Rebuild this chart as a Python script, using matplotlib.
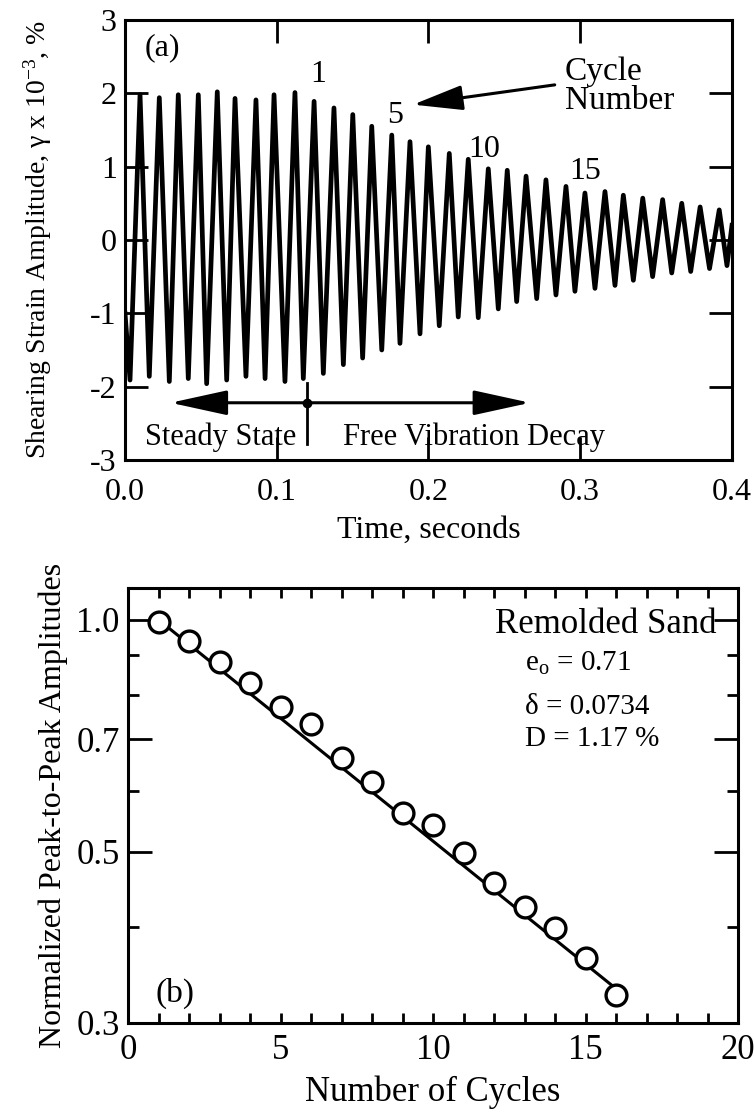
import matplotlib
matplotlib.use('Agg')
import matplotlib.pyplot as plt

plt.rcParams['font.family'] = ['Liberation Serif', 'DejaVu Serif']
plt.rcParams['mathtext.fontset'] = 'custom'
plt.rcParams['mathtext.rm'] = 'Liberation Serif'
plt.rcParams['mathtext.it'] = 'Liberation Serif:italic'
plt.rcParams['axes.unicode_minus'] = False

# (a) peaks and troughs of the strain trace
time_s = [0.0, 0.0033, 0.0099, 0.0160, 0.0226, 0.0292, 0.0351, 0.0417, 0.0483, 0.0538,
          0.0608, 0.0670, 0.0725, 0.0797, 0.0863, 0.0923, 0.0982, 0.1054, 0.1120, 0.1175,
          0.1246, 0.1307, 0.1377, 0.1439, 0.1501, 0.1566, 0.1626, 0.1692, 0.1758, 0.1812,
          0.1878, 0.1944, 0.1999, 0.2071, 0.2137, 0.2196, 0.2262, 0.2328, 0.2394, 0.2460,
          0.2519, 0.2581, 0.2643, 0.2713, 0.2774, 0.2840, 0.2906, 0.2965, 0.3031, 0.3097,
          0.3163, 0.3229, 0.3284, 0.3350, 0.3412, 0.3477, 0.3543, 0.3603, 0.3669, 0.3728,
          0.3790, 0.3852, 0.3916, 0.3967, 0.4000]
strain = [-1.0, -1.91, 1.98, -1.86, 1.94, -1.93, 1.98, -1.89, 1.98, -1.96,
          2.02, -1.91, 1.93, -1.86, 1.91, -1.89, 1.98, -1.93, 2.01, -1.89,
          1.89, -1.82, 1.80, -1.70, 1.71, -1.61, 1.55, -1.50, 1.43, -1.41,
          1.34, -1.28, 1.27, -1.17, 1.18, -1.05, 1.10, -1.06, 0.97, -0.94,
          0.95, -0.84, 0.87, -0.80, 0.82, -0.75, 0.73, -0.70, 0.64, -0.66,
          0.66, -0.62, 0.61, -0.55, 0.57, -0.50, 0.55, -0.45, 0.50, -0.43,
          0.45, -0.39, 0.41, -0.35, 0.20]

# (b) normalized peak-to-peak amplitudes
cycles = [1, 2, 3, 4, 5, 6, 7, 8, 9, 10, 11, 12, 13, 14, 15, 16]
norm_amp = [0.994, 0.938, 0.881, 0.828, 0.771, 0.732, 0.661, 0.617, 0.561, 0.542,
            0.499, 0.456, 0.424, 0.398, 0.364, 0.326]
fit_n = [1.0, 16.3]
fit_amp = [1.0, 0.325]

fig = plt.figure(figsize=(7.54, 11.14), dpi=100)

# ---- panel (a)
ax1 = fig.add_axes([0.1658, 0.5871, 0.8050, 0.3950])
ax1.plot(time_s, strain, color='k', lw=3.4)
ax1.set_xlim(0, 0.4)
ax1.set_ylim(-3, 3)
ax1.set_xticks([0.0, 0.1, 0.2, 0.3, 0.4])
ax1.set_xticklabels(['0.0', '0.1', '0.2', '0.3', '0.4'])
ax1.set_yticks([-3, -2, -1, 0, 1, 2, 3])
ax1.tick_params(direction='in', length=16.5, width=2, top=True, right=True,
                labelsize=23, pad=6)
ax1.tick_params(axis='x', pad=13)
for s in ax1.spines.values():
    s.set_linewidth(2.2)
ax1.set_xlabel('Time, seconds', fontsize=23, labelpad=6)
ax1.set_ylabel('Shearing Strain Amplitude, \u03b3 x 10$^{-3}$, %', fontsize=20, labelpad=26)

ax1.text(0.013, 2.62, '(a)', fontsize=23, ha='left', va='center')
ax1.text(0.127, 2.25, '1', fontsize=23, ha='center', va='center')
ax1.text(0.178, 1.70, '5', fontsize=23, ha='center', va='center')
ax1.text(0.237, 1.23, '10', fontsize=23, ha='center', va='center')
ax1.text(0.303, 0.93, '15', fontsize=23, ha='center', va='center')
ax1.text(0.290, 2.10, 'Cycle\nNumber', fontsize=24, ha='left', va='center',
         linespacing=0.95)
ax1.annotate('', xy=(0.188, 1.84), xytext=(0.285, 2.12),
             arrowprops=dict(arrowstyle='-|>,head_length=1.4,head_width=0.35',
                             color='k', lw=2.2, mutation_scale=22))

ax1.annotate('', xy=(0.030, -2.22), xytext=(0.12, -2.22),
             arrowprops=dict(arrowstyle='-|>,head_length=1.6,head_width=0.35',
                             color='k', lw=2.2, mutation_scale=22, shrinkA=0, shrinkB=0))
ax1.annotate('', xy=(0.267, -2.22), xytext=(0.12, -2.22),
             arrowprops=dict(arrowstyle='-|>,head_length=1.6,head_width=0.35',
                             color='k', lw=2.2, mutation_scale=22, shrinkA=0, shrinkB=0))
ax1.plot([0.12, 0.12], [-1.95, -2.78], color='k', lw=2)
ax1.plot([0.12], [-2.22], 'o', color='k', ms=6)
ax1.text(0.063, -2.69, 'Steady State', fontsize=22, ha='center', va='center')
ax1.text(0.230, -2.69, 'Free Vibration Decay', fontsize=22, ha='center', va='center')

# ---- panel (b)
ax2 = fig.add_axes([0.170, 0.0817, 0.809, 0.3905])
ax2.plot(fit_n, fit_amp, color='k', lw=2.2)
ax2.plot(cycles, norm_amp, 'o', mfc='white', mec='k', mew=2.4, ms=15)
ax2.set_yscale('log')
ax2.set_xlim(0, 20)
ax2.set_ylim(0.3, 1.1)
ax2.set_xticks([0, 5, 10, 15, 20])
ax2.set_xticks(range(0, 21), minor=True)
ax2.set_yticks([0.3, 0.5, 0.7, 1.0])
ax2.set_yticklabels(['0.3', '0.5', '0.7', '1.0'])
ax2.set_yticks([0.4, 0.6, 0.8, 0.9], minor=True)
ax2.set_yticklabels([], minor=True)
ax2.tick_params(axis='x', which='both', direction='in', length=7.5, width=2,
                top=True, bottom=True, labelsize=25, pad=8)
ax2.tick_params(axis='y', which='major', direction='in', length=17, width=2,
                left=True, right=True, labelsize=25, pad=6)
ax2.tick_params(axis='y', which='minor', direction='in', length=8, width=2,
                left=True, right=True)
for s in ax2.spines.values():
    s.set_linewidth(2.2)
ax2.set_xlabel('Number of Cycles', fontsize=25, labelpad=6)
ax2.set_ylabel('Normalized Peak-to-Peak Amplitudes', fontsize=23, labelpad=6)

ax2.text(19.3, 0.985, 'Remolded Sand', fontsize=25, ha='right', va='center')
ax2.text(13.0, 0.877, 'e$_{\\rm o}$ = 0.71', fontsize=21, ha='left', va='center')
ax2.text(13.0, 0.770, '\u03b4 = 0.0734', fontsize=21, ha='left', va='center')
ax2.text(13.0, 0.701, 'D = 1.17 %', fontsize=21, ha='left', va='center')
ax2.text(1.55, 0.328, '(b)', fontsize=24, ha='center', va='center')

fig.savefig('out.png', dpi=100)
